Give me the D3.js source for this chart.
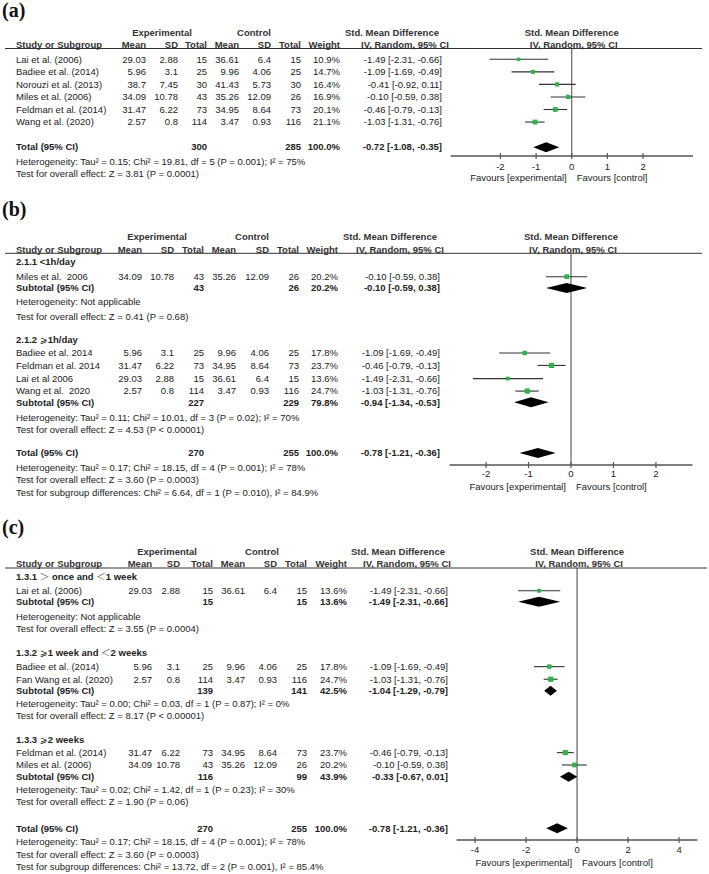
<!DOCTYPE html>
<html><head><meta charset="utf-8">
<script src="https://cdn.jsdelivr.net/npm/d3@7"></script>
<style>
html,body{margin:0;padding:0;background:#fff;}
text{white-space:pre;}
</style>
</head><body>
<script>
// ---------------- Panel (a) data ----------------
const aStudy = ["Lai et al. (2006)","Badiee et al. (2014)","Norouzi et al. (2013)","Miles et al. (2006)","Feldman et al. (2014)","Wang et al. (2020)"];
const aExpMean = [29.03,5.96,38.7,34.09,31.47,2.57];
const aExpSD = [2.88,3.1,7.45,10.78,6.22,0.8];
const aExpN = [15,25,30,43,73,114];
const aCtlMean = [36.61,9.96,41.43,35.26,34.95,3.47];
const aCtlSD = [6.4,4.06,5.73,12.09,8.64,0.93];
const aCtlN = [15,25,30,26,73,116];
const aWeight = [10.9,14.7,16.4,16.9,20.1,21.1];
const aSMD = [-1.49,-1.09,-0.41,-0.10,-0.46,-1.03];
const aLow = [-2.31,-1.69,-0.92,-0.59,-0.79,-1.31];
const aHigh = [-0.66,-0.49,0.11,0.38,-0.13,-0.76];
const aTotalN = [300,285];
const aTotalEst = [-0.72,-1.08,-0.35];
const aTotalNotes = ["Heterogeneity: Tau² = 0.15; Chi² = 19.81, df = 5 (P = 0.001); I² = 75%","Test for overall effect: Z = 3.81 (P = 0.0001)"];
const aTicks = [-2,-1,0,1,2];

// ---------------- Panel (b) data ----------------
const bGroupNames = ["2.1.1 <1h/day","2.1.2 ⩾1h/day"];
const bStudy = ["Miles et al.  2006","Badiee et al. 2014","Feldman et al. 2014","Lai et al 2006","Wang et al.  2020"];
const bGroup = [0,1,1,1,1];
const bExpMean = [34.09,5.96,31.47,29.03,2.57];
const bExpSD = [10.78,3.1,6.22,2.88,0.8];
const bExpN = [43,25,73,15,114];
const bCtlMean = [35.26,9.96,34.95,36.61,3.47];
const bCtlSD = [12.09,4.06,8.64,6.4,0.93];
const bCtlN = [26,25,73,15,116];
const bWeight = [20.2,17.8,23.7,13.6,24.7];
const bSMD = [-0.10,-1.09,-0.46,-1.49,-1.03];
const bLow = [-0.59,-1.69,-0.79,-2.31,-1.31];
const bHigh = [0.38,-0.49,-0.13,-0.66,-0.76];
const bSubExpN = [43,227];
const bSubCtlN = [26,229];
const bSubWeight = [20.2,79.8];
const bSubSMD = [-0.10,-0.94];
const bSubLow = [-0.59,-1.34];
const bSubHigh = [0.38,-0.53];
const bSubHet = ["Heterogeneity: Not applicable","Heterogeneity: Tau² = 0.11; Chi² = 10.01, df = 3 (P = 0.02); I² = 70%"];
const bSubTest = ["Test for overall effect: Z = 0.41 (P = 0.68)","Test for overall effect: Z = 4.53 (P < 0.00001)"];
const bTotalN = [270,255];
const bTotalEst = [-0.78,-1.21,-0.36];
const bTotalNotes = ["Heterogeneity: Tau² = 0.17; Chi² = 18.15, df = 4 (P = 0.001); I² = 78%","Test for overall effect: Z = 3.60 (P = 0.0003)","Test for subgroup differences: Chi² = 6.64, df = 1 (P = 0.010), I² = 84.9%"];
const bTicks = [-2,-1,0,1,2];

// ---------------- Panel (c) data ----------------
const cGroupNames = ["1.3.1 ＞ once and ＜1 week","1.3.2 ⩾1 week and ＜2 weeks","1.3.3 ⩾2 weeks"];
const cStudy = ["Lai et al. (2006)","Badiee et al. (2014)","Fan Wang et al. (2020)","Feldman et al. (2014)","Miles et al. (2006)"];
const cGroup = [0,1,1,2,2];
const cExpMean = [29.03,5.96,2.57,31.47,34.09];
const cExpSD = [2.88,3.1,0.8,6.22,10.78];
const cExpN = [15,25,114,73,43];
const cCtlMean = [36.61,9.96,3.47,34.95,35.26];
const cCtlSD = [6.4,4.06,0.93,8.64,12.09];
const cCtlN = [15,25,116,73,26];
const cWeight = [13.6,17.8,24.7,23.7,20.2];
const cSMD = [-1.49,-1.09,-1.03,-0.46,-0.10];
const cLow = [-2.31,-1.69,-1.31,-0.79,-0.59];
const cHigh = [-0.66,-0.49,-0.76,-0.13,0.38];
const cSubExpN = [15,139,116];
const cSubCtlN = [15,141,99];
const cSubWeight = [13.6,42.5,43.9];
const cSubSMD = [-1.49,-1.04,-0.33];
const cSubLow = [-2.31,-1.29,-0.67];
const cSubHigh = [-0.66,-0.79,0.01];
const cSubHet = ["Heterogeneity: Not applicable","Heterogeneity: Tau² = 0.00; Chi² = 0.03, df = 1 (P = 0.87); I² = 0%","Heterogeneity: Tau² = 0.02; Chi² = 1.42, df = 1 (P = 0.23); I² = 30%"];
const cSubTest = ["Test for overall effect: Z = 3.55 (P = 0.0004)","Test for overall effect: Z = 8.17 (P < 0.00001)","Test for overall effect: Z = 1.90 (P = 0.06)"];
const cTotalN = [270,255];
const cTotalEst = [-0.78,-1.21,-0.36];
const cTotalNotes = ["Heterogeneity: Tau² = 0.17; Chi² = 18.15, df = 4 (P = 0.001); I² = 78%","Test for overall effect: Z = 3.60 (P = 0.0003)","Test for subgroup differences: Chi² = 13.72, df = 2 (P = 0.001), I² = 85.4%"];
const cTicks = [-4,-2,0,2,4];

// Shared labels
const favourLeft = "Favours [experimental]";
const favourRight = "Favours [control]";

// ---------------- Rendering ----------------
const W = 709, H = 874;
const FONT = "'Liberation Sans', Arial, sans-serif";
const FS = 9.5;
const TXT = "#222";
const GREEN = "#30b24a";

const svg = d3.select("body").append("svg").attr("width", W).attr("height", H);
svg.append("rect").attr("width", W).attr("height", H).attr("fill", "#fff");

const fmtCI = (m, l, h) => `${m.toFixed(2)} [${l.toFixed(2)}, ${h.toFixed(2)}]`;
const fmtW = w => w.toFixed(1) + "%";

function buildRows(d) {
  const rows = [];
  if (!d.groupNames) {
    d.study.forEach((s, i) => rows.push({type: "study", i}));
  } else {
    d.groupNames.forEach((gname, k) => {
      rows.push({type: "group", text: gname});
      d.study.forEach((s, i) => { if (d.group[i] === k) rows.push({type: "study", i}); });
      rows.push({type: "sub", k});
      rows.push({type: "note", text: d.subHet[k]});
      rows.push({type: "note", text: d.subTest[k]});
    });
  }
  rows.push({type: "total"});
  d.totalNotes.forEach(t => rows.push({type: "note", text: t}));
  return rows;
}

function drawPanel(d, L) {
  const g = svg.append("g");
  const x = d3.scaleLinear().domain(L.domain).range(L.range);
  const y = d3.scaleLinear().domain([0, 1]).range([L.y0, L.y0 + L.step]);
  const C = L.cols;

  const txt = (xx, yy, s, anchor, bold) => g.append("text")
    .attr("x", xx).attr("y", yy).attr("dy", "0.35em")
    .attr("text-anchor", anchor || "start")
    .attr("font-family", FONT).attr("font-size", FS)
    .attr("font-weight", bold ? "bold" : "normal")
    .attr("fill", TXT).text(s);

  // panel label
  g.append("text").attr("x", 2).attr("y", L.labelY)
    .attr("font-family", "'Liberation Serif', 'Times New Roman', serif")
    .attr("font-size", 20).attr("font-weight", "bold").attr("fill", "#111")
    .text(d.label);

  // header row 1
  const hc = "#333";
  txt(C.expHdr, L.h1, "Experimental", "middle", true).attr("fill", hc);
  txt(C.ctlHdr, L.h1, "Control", "middle", true).attr("fill", hc);
  txt(C.ciHdr1, L.h1, "Std. Mean Difference", "middle", true).attr("fill", hc);
  txt(x(0), L.h1, "Std. Mean Difference", "middle", true).attr("fill", hc);
  // header row 2
  txt(C.study, L.h2, "Study or Subgroup", "start", true).attr("fill", hc);
  txt(C.expMean, L.h2, "Mean", "end", true).attr("fill", hc);
  txt(C.expSD, L.h2, "SD", "end", true).attr("fill", hc);
  txt(C.expN, L.h2, "Total", "end", true).attr("fill", hc);
  txt(C.ctlMean, L.h2, "Mean", "end", true).attr("fill", hc);
  txt(C.ctlSD, L.h2, "SD", "end", true).attr("fill", hc);
  txt(C.ctlN, L.h2, "Total", "end", true).attr("fill", hc);
  txt(C.weight, L.h2, "Weight", "end", true).attr("fill", hc);
  txt(C.ciHdr2, L.h2, "IV, Random, 95% CI", "middle", true).attr("fill", hc);
  txt(x(0) + 2, L.h2, "IV, Random, 95% CI", "middle", true).attr("fill", hc);

  // header rule
  g.append("line").attr("x1", 5).attr("x2", L.lineEnd)
    .attr("y1", L.lineY).attr("y2", L.lineY).attr("stroke", "#333").attr("stroke-width", 1);

  // zero line
  g.append("line").attr("x1", x(0)).attr("x2", x(0))
    .attr("y1", L.lineY).attr("y2", L.axisY).attr("stroke", "#444").attr("stroke-width", 1);

  // axis
  g.append("line").attr("x1", L.range[0]).attr("x2", L.range[1])
    .attr("y1", L.axisY).attr("y2", L.axisY).attr("stroke", "#555").attr("stroke-width", 1.3);
  d.ticks.forEach(t => {
    g.append("line").attr("x1", x(t)).attr("x2", x(t))
      .attr("y1", L.axisY - 3).attr("y2", L.axisY + 3).attr("stroke", "#555").attr("stroke-width", 1.2);
    txt(x(t), L.tickY, String(t).replace("-", "-"), "middle", false);
  });
  txt(x(0) - 5, L.favY, favourLeft, "end", false);
  txt(x(0) + 5, L.favY, favourRight, "start", false);

  // rows
  const rows = buildRows(d);
  rows.forEach((r, ri) => {
    const yy = y(L.slots[ri]);
    if (r.type === "group") {
      const parts = r.text.split(/([＞＜⩾])/);
      const t = txt(C.study, yy, "", "start", true);
      parts.forEach(p => {
        if (!p) return;
        const sp = t.append("tspan").text(p);
        if (/[＞＜]/.test(p)) sp.attr("font-family", "'Noto Sans CJK SC', sans-serif").attr("font-weight", 300);
        if (/⩾/.test(p)) sp.attr("font-family", "'DejaVu Sans', sans-serif").attr("font-weight", "normal");
      });
    } else if (r.type === "note") {
      txt(C.study, yy, r.text, "start", false);
    } else if (r.type === "study") {
      const i = r.i;
      txt(C.study, yy, d.study[i], "start", false);
      txt(C.expMean, yy, String(d.expMean[i]), "end");
      txt(C.expSD, yy, String(d.expSD[i]), "end");
      txt(C.expN, yy, String(d.expN[i]), "end");
      txt(C.ctlMean, yy, String(d.ctlMean[i]), "end");
      txt(C.ctlSD, yy, String(d.ctlSD[i]), "end");
      txt(C.ctlN, yy, String(d.ctlN[i]), "end");
      txt(C.weight, yy, fmtW(d.weight[i]), "end");
      txt(C.ci, yy, fmtCI(d.smd[i], d.low[i], d.high[i]), "end");
      g.append("line").attr("x1", x(d.low[i])).attr("x2", x(d.high[i]))
        .attr("y1", yy).attr("y2", yy).attr("stroke", "#333").attr("stroke-width", 1.1);
      const s = 1.05 * Math.sqrt(d.weight[i]);
      g.append("rect").attr("x", x(d.smd[i]) - s / 2).attr("y", yy - s / 2)
        .attr("width", s).attr("height", s).attr("fill", GREEN);
    } else {
      let label, en, cn, w, est, lo, hi;
      if (r.type === "sub") {
        const k = r.k;
        label = "Subtotal (95% CI)"; en = d.subExpN[k]; cn = d.subCtlN[k]; w = d.subWeight[k];
        est = d.subSMD[k]; lo = d.subLow[k]; hi = d.subHigh[k];
      } else {
        label = "Total (95% CI)"; en = d.totalN[0]; cn = d.totalN[1]; w = 100;
        est = d.totalEst[0]; lo = d.totalEst[1]; hi = d.totalEst[2];
      }
      txt(C.study, yy, label, "start", true);
      txt(C.expN, yy, String(en), "end", true);
      txt(C.ctlN, yy, String(cn), "end", true);
      txt(C.weight, yy, fmtW(w), "end", true);
      txt(C.ci, yy, fmtCI(est, lo, hi), "end", true);
      const hh = 5;
      g.append("path")
        .attr("d", `M${x(lo)},${yy}L${x(est)},${yy - hh}L${x(hi)},${yy}L${x(est)},${yy + hh}Z`)
        .attr("fill", "#000");
    }
  });
}

// Panel (a)
drawPanel({
  label: "(a)", study: aStudy, expMean: aExpMean, expSD: aExpSD, expN: aExpN,
  ctlMean: aCtlMean, ctlSD: aCtlSD, ctlN: aCtlN, weight: aWeight,
  smd: aSMD, low: aLow, high: aHigh, totalN: aTotalN, totalEst: aTotalEst,
  totalNotes: aTotalNotes, ticks: aTicks
}, {
  labelY: 16.5, h1: 33, h2: 44.5, lineY: 48.5, axisY: 156, tickY: 166.5, favY: 178,
  y0: 59.3, step: 12.55, slots: [0, 1, 2, 3, 4, 5, 7, 8.15, 9.1],
  domain: [-3.4, 3.4], range: [450.5, 693], lineEnd: 702,
  cols: {study: 16, expMean: 146, expSD: 178, expN: 207, ctlMean: 239, ctlSD: 271, ctlN: 301,
         weight: 340, ci: 442, expHdr: 162, ctlHdr: 254, ciHdr1: 392, ciHdr2: 405}
});

// Panel (b)
drawPanel({
  label: "(b)", groupNames: bGroupNames, group: bGroup, study: bStudy,
  expMean: bExpMean, expSD: bExpSD, expN: bExpN, ctlMean: bCtlMean, ctlSD: bCtlSD, ctlN: bCtlN,
  weight: bWeight, smd: bSMD, low: bLow, high: bHigh,
  subExpN: bSubExpN, subCtlN: bSubCtlN, subWeight: bSubWeight, subSMD: bSubSMD,
  subLow: bSubLow, subHigh: bSubHigh, subHet: bSubHet, subTest: bSubTest,
  totalN: bTotalN, totalEst: bTotalEst, totalNotes: bTotalNotes, ticks: bTicks
}, {
  labelY: 216, h1: 237, h2: 249.5, lineY: 253.3, axisY: 465, tickY: 474, favY: 486.7,
  y0: 261.7, step: 12.5,
  slots: [0, 1.2, 2.1, 3.2, 4.4, 6.25, 7.3, 8.3, 9.35, 10.35, 11.25, 12.5, 13.4, 15.3, 16.5, 17.4, 18.5],
  domain: [-2.86, 2.86], range: [449.5, 692.5], lineEnd: 702,
  cols: {study: 16, expMean: 142, expSD: 174, expN: 204, ctlMean: 236, ctlSD: 269, ctlN: 299,
         weight: 338, ci: 440, expHdr: 157, ctlHdr: 252, ciHdr1: 390, ciHdr2: 400}
});

// Panel (c)
drawPanel({
  label: "(c)", groupNames: cGroupNames, group: cGroup, study: cStudy,
  expMean: cExpMean, expSD: cExpSD, expN: cExpN, ctlMean: cCtlMean, ctlSD: cCtlSD, ctlN: cCtlN,
  weight: cWeight, smd: cSMD, low: cLow, high: cHigh,
  subExpN: cSubExpN, subCtlN: cSubCtlN, subWeight: cSubWeight, subSMD: cSubSMD,
  subLow: cSubLow, subHigh: cSubHigh, subHet: cSubHet, subTest: cSubTest,
  totalN: cTotalN, totalEst: cTotalEst, totalNotes: cTotalNotes, ticks: cTicks
}, {
  labelY: 534, h1: 552, h2: 564, lineY: 568, axisY: 840, tickY: 850, favY: 863,
  y0: 577, step: 12.5,
  slots: [0, 1.1, 1.97, 3.17, 4.1, 6.05, 7.17, 8.18, 9.1, 10.15, 11.1, 12.98, 14.05, 15.04, 15.97, 17.04, 17.97, 20.1, 21.2, 22.2, 23.2],
  domain: [-4.72, 4.72], range: [456.7, 697.4], lineEnd: 707,
  cols: {study: 16, expMean: 152, expSD: 180, expN: 213, ctlMean: 245, ctlSD: 277, ctlN: 307,
         weight: 347, ci: 448, expHdr: 167, ctlHdr: 262, ciHdr1: 398, ciHdr2: 407}
});
</script>
</body></html>
